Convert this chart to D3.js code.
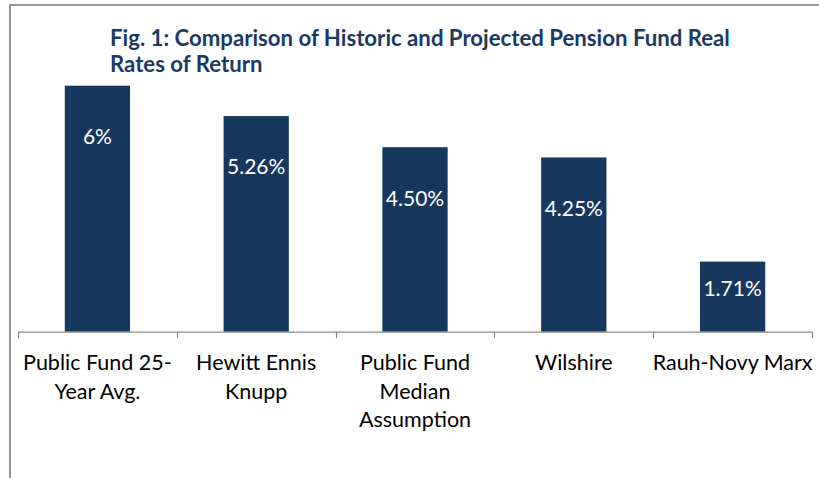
<!DOCTYPE html>
<html>
<head>
<meta charset="utf-8">
<script src="https://cdn.jsdelivr.net/npm/d3@7"></script>
<style>
  body { margin: 0; background: #fff; }
  text { font-family: Lato, "Open Sans", sans-serif; }
</style>
</head>
<body>
<div id="chart"></div>
<script>
var categories = ["Public Fund 25-\nYear Avg.", "Hewitt Ennis\nKnupp", "Public Fund\nMedian\nAssumption", "Wilshire", "Rauh-Novy Marx"];
var values = [6, 5.26, 4.50, 4.25, 1.71];
var valueLabels = ["6%", "5.26%", "4.50%", "4.25%", "1.71%"];
var titleLines = ["Fig. 1: Comparison of Historic and Projected Pension Fund Real", "Rates of Return"];

var W = 819, H = 478;
var margin = { top: 85.7, right: 7, bottom: 146.3, left: 18 },
  width = W - margin.left - margin.right,
  height = H - margin.top - margin.bottom;

var svg = d3.select("#chart").append("svg")
  .attr("width", W)
  .attr("height", H);

// outer frame (cut off at right and bottom)
svg.append("rect")
  .attr("x", 10).attr("y", 5)
  .attr("width", 900).attr("height", 600)
  .attr("fill", "none")
  .attr("stroke", "#8c8c8c")
  .attr("stroke-width", 1.8);

svg.selectAll(".title")
  .data(titleLines)
  .enter().append("text")
  .attr("class", "title")
  .attr("x", 110)
  .attr("y", function (d, i) { return 46 + i * 26; })
  .attr("fill", "#1b3a63")
  .attr("font-weight", "bold")
  .attr("font-size", 22.2)
  .text(function (d) { return d; });

var g = svg.append("g")
  .attr("transform", "translate(" + margin.left + "," + margin.top + ")");

var x = d3.scaleBand()
  .domain(categories)
  .range([0, width])
  .padding(0);

var y = d3.scaleLinear()
  .domain([0, 6])
  .range([height, 0]);

var barW = x.bandwidth() * 0.411;

g.selectAll(".bar")
  .data(values)
  .enter().append("rect")
  .attr("class", "bar")
  .attr("x", function (d, i) { return x(categories[i]) + (x.bandwidth() - barW) / 2; })
  .attr("y", function (d) { return y(d); })
  .attr("width", barW)
  .attr("height", function (d) { return height - y(d); })
  .attr("fill", "#17375e");

g.selectAll(".vlabel")
  .data(values)
  .enter().append("text")
  .attr("class", "vlabel")
  .attr("x", function (d, i) { return x(categories[i]) + x.bandwidth() / 2; })
  .attr("y", function (d) {
    var h = height - y(d);
    return y(d) + Math.min(51, h / 2 - 8);
  })
  .attr("dy", "0.35em")
  .attr("text-anchor", "middle")
  .attr("fill", "#fff")
  .attr("font-size", 21)
  .text(function (d, i) { return valueLabels[i]; });

// category axis
g.append("line")
  .attr("x1", 0).attr("x2", width)
  .attr("y1", height + 0.5).attr("y2", height + 0.5)
  .attr("stroke", "#888")
  .attr("stroke-width", 1.2);

g.selectAll(".tick")
  .data(d3.range(categories.length + 1))
  .enter().append("line")
  .attr("class", "tick")
  .attr("x1", function (i) { return Math.round(i * x.step()) + 0.5; })
  .attr("x2", function (i) { return Math.round(i * x.step()) + 0.5; })
  .attr("y1", height).attr("y2", height + 6.5)
  .attr("stroke", "#888")
  .attr("stroke-width", 1.2);

var cl = g.selectAll(".clabel")
  .data(categories)
  .enter().append("text")
  .attr("class", "clabel")
  .attr("text-anchor", "middle")
  .attr("font-size", 21.5)
  .attr("fill", "#000")
  .attr("transform", function (d) {
    return "translate(" + (x(d) + x.bandwidth() / 2) + "," + (height + 38.5) + ")";
  });

cl.selectAll("tspan")
  .data(function (d) { return d.split("\n"); })
  .enter().append("tspan")
  .attr("x", 0)
  .attr("y", function (d, i) { return i * 28.5; })
  .text(function (d) { return d; });
</script>
</body>
</html>
